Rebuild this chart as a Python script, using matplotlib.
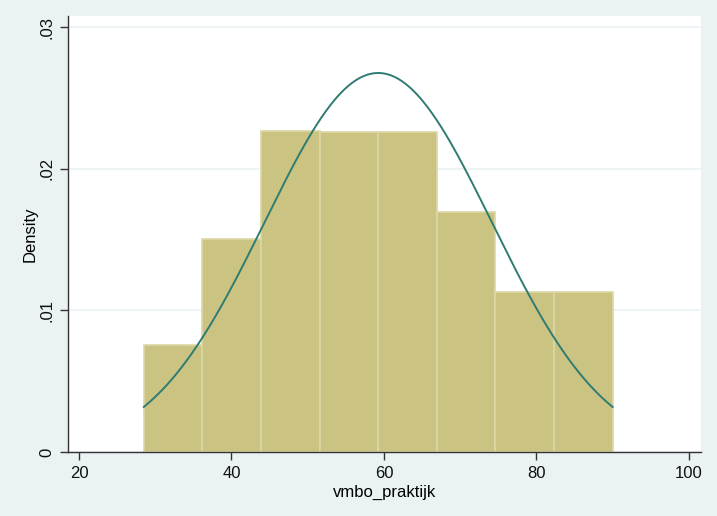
import matplotlib
matplotlib.use("Agg")
import matplotlib.pyplot as plt
import numpy as np

# histogram (Stata-style) of vmbo_praktijk with normal density overlay
bin_edges = [28.5, 36.19, 43.88, 51.56, 59.25, 66.94, 74.63, 82.31, 90.0]
counts = [4, 8, 12, 12, 12, 9, 6, 6]
mu = 59.25
sigma = 14.9

plt.rcParams['font.family'] = ['Liberation Sans', 'DejaVu Sans']

fig = plt.figure(figsize=(7.17, 5.16), dpi=100)
fig.patch.set_facecolor('#eaf2f3')
ax = fig.add_axes([0.0948, 0.124, 0.8829, 0.845])
ax.set_facecolor('white')

edges = np.array(bin_edges)
widths = np.diff(edges)
n = np.array(counts)
dens = n / (n.sum() * widths)

ax.bar(edges[:-1], dens, width=widths, align='edge', color='#cbc381',
       edgecolor='#ddd7a6', linewidth=1.2, zorder=2)

xs = np.linspace(edges[0], edges[-1], 300)
ys = np.exp(-0.5 * ((xs - mu) / sigma) ** 2) / (sigma * np.sqrt(2 * np.pi))
ax.plot(xs, ys, color='#2f7c72', linewidth=1.4, zorder=3)

ax.set_xlim(18.55, 101.6)
ax.set_ylim(0, 0.0308)
ax.set_xticks([20, 40, 60, 80, 100])
ax.set_yticks([0, 0.01, 0.02, 0.03])
ax.set_yticklabels(['0', '.01', '.02', '.03'], rotation=90, va='center')
ax.yaxis.grid(True, color='#eaf2f3', linewidth=1.2, zorder=0)
ax.set_axisbelow(True)

for s in ['top', 'right']:
    ax.spines[s].set_visible(False)
for s in ['left', 'bottom']:
    ax.spines[s].set_color('#333333')
    ax.spines[s].set_linewidth(1.0)
ax.tick_params(direction='out', length=6, width=1, color='#333333',
               labelsize=12, labelcolor='#111111', pad=4)

ax.set_xlabel('vmbo_praktijk', fontsize=12, labelpad=3)
ax.set_ylabel('Density', fontsize=12, labelpad=1)

fig.savefig('out.png', dpi=100, facecolor=fig.get_facecolor())
